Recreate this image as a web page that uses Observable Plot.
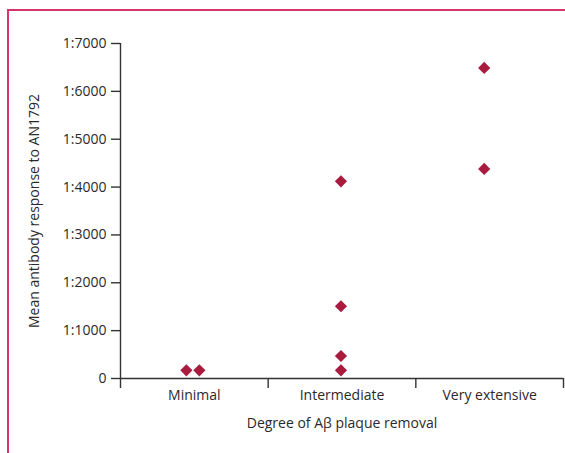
<!DOCTYPE html>
<html>
<head>
<meta charset="utf-8">
<script src="https://cdn.jsdelivr.net/npm/d3@7"></script>
<script src="https://cdn.jsdelivr.net/npm/@observablehq/plot@0.6"></script>
<style>
  html, body { margin: 0; padding: 0; background: #fff; }
  #wrap { position: relative; width: 565px; height: 453px; }
  #frame { position: absolute; left: 7px; top: 9px; right: 0; bottom: 0;
           border-top: 2px solid #d7336c; border-left: 2px solid #d7336c; pointer-events: none; }
  svg { font-family: "Open Sans", sans-serif; }
</style>
</head>
<body>
<div id="wrap"><div id="frame"></div></div>
<script>
// Categories (x axis)
const categories = ["Minimal", "Intermediate", "Very extensive"];
// Each observation: its category index, small horizontal jitter (in category widths), and value
const pointCategory = [0, 0, 1, 1, 1, 1, 2, 2];
const pointJitter   = [-0.054, 0.034, -0.007, -0.007, -0.007, -0.007, -0.037, -0.037];
const pointValue    = [170, 170, 4120, 1510, 470, 170, 6490, 4380];
// Y ticks
const yTicks = [0, 1000, 2000, 3000, 4000, 5000, 6000, 7000];
const yTitle = "Mean antibody response to AN1792";
const xTitle = "Degree of A\u03b2 plaque removal";

const points = pointValue.map((v, i) => ({ x: pointCategory[i] + pointJitter[i], y: v }));
const boundaries = d3.range(categories.length + 1).map(i => i - 0.5);

const axisColor = "#333";
const textColor = "#2a2a2a";
const fs = 14;

const chart = Plot.plot({
  width: 565,
  height: 453,
  marginLeft: 120,
  marginRight: 2,
  marginTop: 43,
  marginBottom: 75,
  style: { fontSize: fs + "px", color: textColor, background: "transparent" },
  x: { type: "linear", domain: [-0.5, categories.length - 0.5], axis: null },
  y: { domain: [0, 7000], axis: null },
  marks: [
    // Y axis
    Plot.axisY({ ticks: yTicks, tickSize: 9, tickPadding: 5, tickFormat: d => d === 0 ? "0" : "1:" + d,
                 stroke: axisColor, strokeWidth: 1.4, fill: textColor, fontSize: fs, label: null }),
    Plot.ruleX([-0.5], { y1: 0, y2: 7000, stroke: axisColor, strokeWidth: 1.4 }),
    // X axis line and band boundary ticks
    Plot.ruleY([0], { x1: -0.5, x2: categories.length - 0.5, stroke: axisColor, strokeWidth: 1.4 }),
    Plot.axisX({ ticks: boundaries, tickSize: 10, tickFormat: () => "", stroke: axisColor, strokeWidth: 1.4, label: null }),
    // Category labels
    Plot.axisX({ ticks: d3.range(categories.length), tickSize: 0, tickPadding: 12,
                 tickFormat: i => categories[i], fill: textColor, fontSize: fs, label: null }),
    // Axis titles
    Plot.text([xTitle], { frameAnchor: "bottom", dy: 49, fill: textColor, fontSize: fs }),
    Plot.text([yTitle], { frameAnchor: "left", dx: -86, rotate: -90, textAnchor: "middle", fill: textColor, fontSize: fs }),
    // Data
    Plot.dot(points, { x: "x", y: "y", symbol: "diamond2", r: 5.5, fill: "#a91b3f", stroke: "none" })
  ]
});
document.getElementById("wrap").prepend(chart);
</script>
</body>
</html>
